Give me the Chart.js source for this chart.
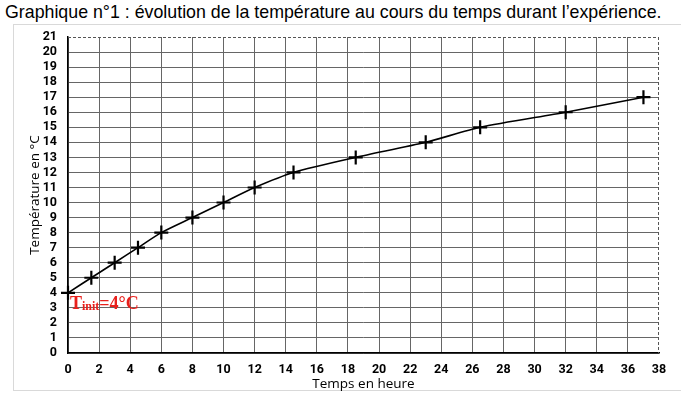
<!DOCTYPE html>
<html>
<head>
<meta charset="utf-8">
<script src="https://cdn.jsdelivr.net/npm/chart.js"></script>
<style>
  html, body { margin: 0; padding: 0; background: #fff; }
  body { width: 681px; height: 399px; position: relative; overflow: hidden; }
  #title {
    position: absolute; left: 5px; top: 2px;
    font-family: "Liberation Sans", Arial, sans-serif; font-size: 17.8px; color: #000;
    white-space: nowrap;
  }
  #frame {
    position: absolute; left: 13px; top: 24px; width: 700px; height: 367px;
    border: 1px solid #d9d9d9; box-sizing: border-box;
  }
  #wrap { position: absolute; left: 0; top: 0; width: 681px; height: 399px; }
</style>
</head>
<body>
<div id="title">Graphique n°1 : évolution de la température au cours du temps durant l’expérience.</div>
<div id="frame"></div>
<div id="wrap"><canvas id="chart"></canvas></div>
<script>
// Temps (heures) et température (°C)
const timeHours = [0, 1.5, 3, 4.5, 6, 8, 10, 12, 14.5, 18.5, 23, 26.5, 32, 37];
const temperatures = [4, 5, 6, 7, 8, 9, 10, 11, 12, 13, 14, 15, 16, 17];

const xMin = 0, xMax = 38, xStep = 2;
const yMin = 0, yMax = 21, yStep = 1;

const xTitle = 'Temps en heure';
const yTitle = 'Température en °C';
const initLabel = { main: 'T', sub: 'init', rest: '=4°C' };

const points = timeHours.map((t, i) => ({ x: t, y: temperatures[i] }));

const tickFont = { family: 'Roboto, "DejaVu Sans", sans-serif', size: 12.5, weight: 'bold' };
const titleFont = { family: '"Open Sans", sans-serif', size: 13.5 };

// dashed top / right edges + Tinit annotation
const extras = {
  id: 'extras',
  beforeDatasetsDraw(chart) {
    const { ctx, scales: { x, y } } = chart;
    const top = y.getPixelForValue(yMax);
    const bottom = y.getPixelForValue(yMin);
    const left = x.getPixelForValue(xMin);
    const right = x.getPixelForValue(xMax);
    ctx.save();
    ctx.strokeStyle = '#555';
    ctx.lineWidth = 1;
    ctx.setLineDash([3, 2]);
    ctx.beginPath();
    ctx.moveTo(left, top + 0.5);
    ctx.lineTo(right, top + 0.5);
    ctx.moveTo(right - 0.5, top);
    ctx.lineTo(right - 0.5, bottom);
    ctx.stroke();
    ctx.restore();
  },
  afterDatasetsDraw(chart) {
    const { ctx, scales: { x, y } } = chart;
    let px = x.getPixelForValue(timeHours[0]) + 2;
    const py = y.getPixelForValue(temperatures[0]) + 16;
    ctx.save();
    ctx.fillStyle = '#e8201c';
    ctx.textBaseline = 'alphabetic';
    ctx.font = 'bold 18px "Liberation Serif", serif';
    ctx.fillText(initLabel.main, px, py);
    px += ctx.measureText(initLabel.main).width;
    ctx.font = 'bold 12px "Liberation Serif", serif';
    ctx.fillText(initLabel.sub, px, py + 1);
    px += ctx.measureText(initLabel.sub).width;
    ctx.font = 'bold 18px "Liberation Serif", serif';
    ctx.fillText(initLabel.rest, px, py);
    ctx.restore();
  }
};

new Chart(document.getElementById('chart'), {
  type: 'scatter',
  data: {
    datasets: [{
      data: points,
      showLine: true,
      clip: false,
      borderColor: '#000',
      borderWidth: 1.6,
      tension: 0.25,
      pointStyle: 'cross',
      pointRadius: 7,
      pointBorderWidth: 2.2,
      pointBorderColor: '#000',
      pointBackgroundColor: '#000'
    }]
  },
  options: {
    responsive: true,
    maintainAspectRatio: false,
    animation: false,
    layout: { padding: { left: 0, top: 37, right: 22, bottom: 0 } },
    plugins: { legend: { display: false }, tooltip: { enabled: false } },
    scales: {
      x: {
        type: 'linear',
        min: xMin, max: xMax,
        afterFit(scale) { scale.height = 46; },
        ticks: { stepSize: xStep, autoSkip: false, color: '#000', font: tickFont, padding: 9, maxRotation: 0 },
        grid: {
          color: ctx => ctx.tick && ctx.tick.value === xMax ? 'rgba(0,0,0,0)' : '#666',
          lineWidth: 1, tickLength: 0
        },
        border: { color: '#000', width: 1.5 },
        title: { display: true, text: xTitle, color: '#000', font: titleFont, padding: { top: 0, bottom: 7 } }
      },
      y: {
        type: 'linear',
        min: yMin, max: yMax,
        afterFit(scale) { scale.width = 68; },
        ticks: { stepSize: yStep, autoSkip: false, color: '#000', font: tickFont, padding: 11 },
        grid: {
          color: ctx => ctx.tick && ctx.tick.value === yMax ? 'rgba(0,0,0,0)' : '#666',
          lineWidth: 1, tickLength: 0
        },
        border: { color: '#000', width: 1.5 },
        title: { display: true, text: yTitle, color: '#000', font: titleFont, padding: { top: 27, bottom: 0 } }
      }
    }
  },
  plugins: [extras]
});
</script>
</body>
</html>
